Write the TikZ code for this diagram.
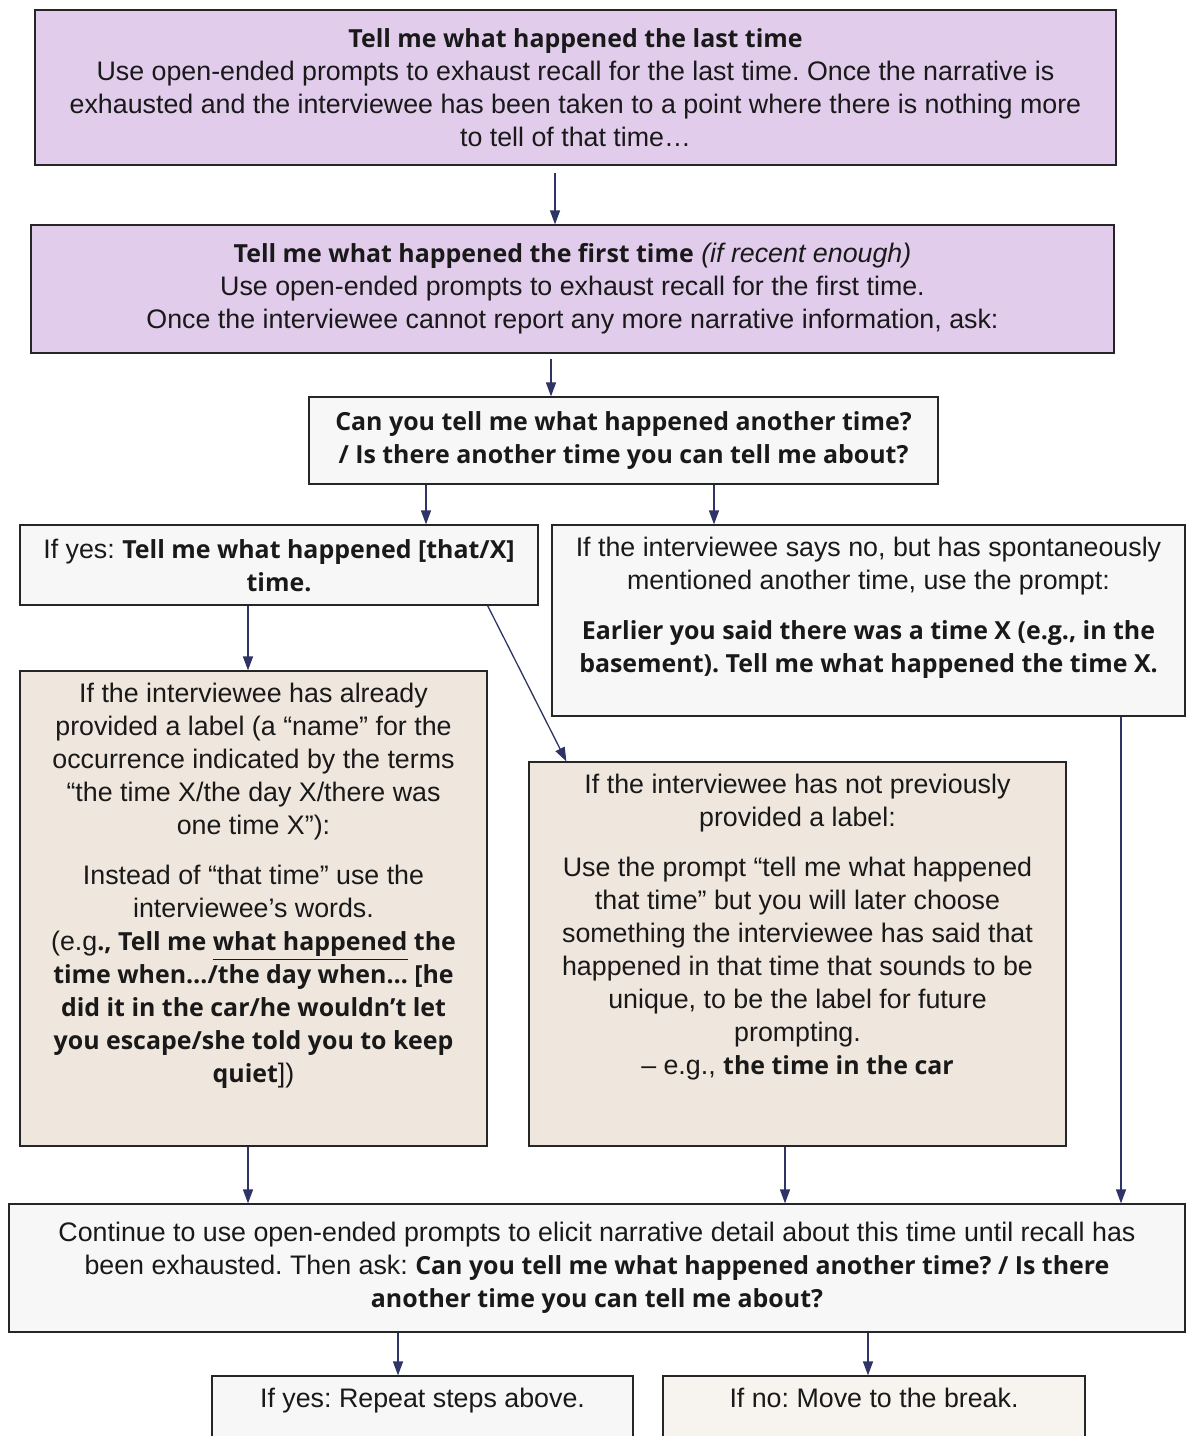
\documentclass[tikz,border=0pt]{standalone}
\usepackage{fontspec}
\setmainfont{Liberation Sans}
\newfontfamily\boldfam{Open Sans}[Scale=0.93]
\usetikzlibrary{arrows.meta}
\definecolor{lilac}{HTML}{E1CCEC}
\definecolor{palegrey}{HTML}{F7F7F7}
\definecolor{sand}{HTML}{EFE6DE}
\definecolor{cream}{HTML}{F7F3EE}
\definecolor{navy}{HTML}{2E3466}
\frenchspacing
\newcommand{\hl}[1]{{\boldfam\bfseries #1}}
\newcommand{\toptext}[3]{\parbox[c][#1][t]{#2}{\centering\setlength{\parskip}{8.5pt}#3}}
\tikzset{
  panel/.style={draw=black!85, line width=0.6pt, inner sep=0pt, text=black!90,
    font=\fontsize{13.4pt}{16.5pt}\selectfont},
  lilacbox/.style={panel, fill=lilac},
  greybox/.style={panel, fill=palegrey},
  sandbox/.style={panel, fill=sand},
  creambox/.style={panel, fill=cream},
  arr/.style={draw=navy, line width=0.65pt, -{Triangle[length=7pt,width=5pt]}}
}
\begin{document}
\begin{tikzpicture}[x=0.5pt,y=-0.5pt]
\useasboundingbox (0,0) rectangle (1185,1436);
\node[lilacbox, minimum width=540.5pt, minimum height=77.5pt] (last) at (575.5,87.5)
  {\parbox{536pt}{\centering \hl{Tell me what happened the last time}\\
  Use open-ended prompts to exhaust recall for the last time. Once the narrative is\\
  exhausted and the interviewee has been taken to a point where there is nothing more\\
  to tell of that time…}};
\node[lilacbox, minimum width=541.5pt, minimum height=64pt] (first) at (572.5,289)
  {\parbox{536pt}{\centering \hl{Tell me what happened the first time} \textit{(if recent enough)}\\
  Use open-ended prompts to exhaust recall for the first time.\\
  Once the interviewee cannot report any more narrative information, ask:}};
\node[greybox, minimum width=314.5pt, minimum height=43.5pt] (another) at (623.5,440.5)
  {\parbox{312pt}{\centering \hl{Can you tell me what happened another time?\\
  / Is there another time you can tell me about?}}};
\node[greybox, minimum width=259pt, minimum height=40pt] (yes) at (279,565)
  {\parbox{256pt}{\centering If yes: \hl{Tell me what happened [that/X]}\\ \hl{time.}}};
\node[greybox, minimum width=316.5pt, minimum height=95.5pt] (no) at (868.5,620.5)
  {\toptext{83.5pt}{314pt}{If the interviewee says no, but has spontaneously\\
  mentioned another time, use the prompt:\par
  \hl{Earlier you said there was a time X (e.g., in the\\
  basement). Tell me what happened the time X.}}};
\node[sandbox, minimum width=233.5pt, minimum height=237.5pt] (labelled) at (253.5,908.5)
  {\toptext{225.5pt}{231pt}{If the interviewee has already\\
  provided a label (a “name” for the\\
  occurrence indicated by the terms\\
  “the time X/the day X/there was\\
  one time X”):\par
  Instead of “that time” use the\\
  interviewee’s words.\\
  (e.g\hl{., Tell me \underline{what happened} the}\\
  \hl{time when…/the day when… [he}\\
  \hl{did it in the car/he wouldn’t let}\\
  \hl{you escape/she told you to keep}\\
  \hl{quiet}])}};
\node[sandbox, minimum width=268.5pt, minimum height=192pt] (unlabelled) at (797.5,954)
  {\toptext{180pt}{266pt}{If the interviewee has not previously\\
  provided a label:\par
  Use the prompt “tell me what happened\\
  that time” but you will later choose\\
  something the interviewee has said that\\
  happened in that time that sounds to be\\
  unique, to be the label for future\\
  prompting.\\
  – e.g., \hl{the time in the car}}};
\node[greybox, minimum width=588pt, minimum height=64pt] (continue) at (597,1268)
  {\parbox{585pt}{\centering Continue to use open-ended prompts to elicit narrative detail about this time until recall has\\
  been exhausted. Then ask: \hl{Can you tell me what happened another time? / Is there}\\
  \hl{another time you can tell me about?}}};
\node[greybox, minimum width=210.5pt, minimum height=40pt] (repeat) at (422.5,1416)
  {\toptext{28pt}{208pt}{If yes: Repeat steps above.}};
\node[creambox, minimum width=211pt, minimum height=40pt] (break) at (874,1416)
  {\toptext{28pt}{208pt}{If no: Move to the break.}};
% connectors
\draw[arr, shorten <=3.5pt] ([xshift=-10.25pt]last.south) -- ([xshift=-10.25pt]last.south |- first.north);
\draw[arr, shorten <=2.5pt] ([xshift=-10.75pt]first.south) -- ([xshift=-10.75pt]first.south |- another.north);
\draw[arr] ([xshift=-98.75pt]another.south) -- ([xshift=-98.75pt]another.south |- yes.north);
\draw[arr] ([xshift=45.25pt]another.south) -- ([xshift=45.25pt]another.south |- no.north);
\draw[arr] ([xshift=-15.5pt]yes.south) -- ([xshift=-15.5pt]yes.south |- labelled.north);
\draw[arr] ([xshift=-25.5pt]yes.south east) -- ([xshift=19pt]unlabelled.north west);
\draw[arr] ([xshift=126.25pt]no.south) -- ([xshift=126.25pt]no.south |- continue.north);
\draw[arr] ([xshift=-2.75pt]labelled.south) -- ([xshift=-2.75pt]labelled.south |- continue.north);
\draw[arr] ([xshift=-6.25pt]unlabelled.south) -- ([xshift=-6.25pt]unlabelled.south |- continue.north);
\draw[arr] ([xshift=-99.5pt]continue.south) -- ([xshift=-99.5pt]continue.south |- repeat.north);
\draw[arr] ([xshift=135.5pt]continue.south) -- ([xshift=135.5pt]continue.south |- break.north);
\end{tikzpicture}
\end{document}
